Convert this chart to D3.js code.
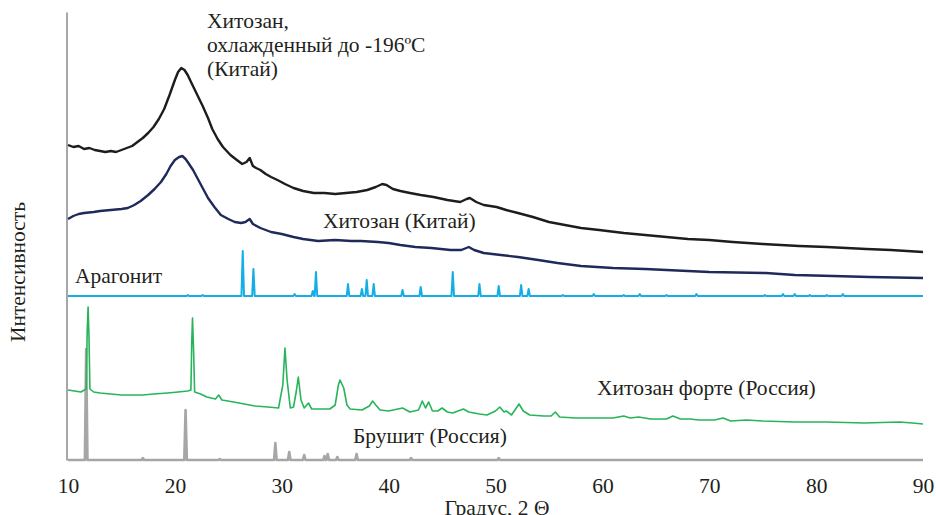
<!DOCTYPE html>
<html>
<head>
<meta charset="utf-8">
<script src="https://cdn.jsdelivr.net/npm/d3@7"></script>
<style>
  body { margin: 0; background: #fff; }
</style>
</head>
<body>
<script>
var FONT = '"Liberation Serif", "DejaVu Serif", "Times New Roman", serif';

// x ticks
var xTicks = [10, 20, 30, 40, 50, 60, 70, 80, 90];

// Хитозан, охлажденный до -196ºC (Китай) — black
var frozenX = [10, 10.5, 11, 11.5, 12, 12.5, 13, 13.5, 14, 14.5, 15, 15.5, 16, 16.5, 17, 17.5, 18, 18.5, 19, 19.5, 20, 20.3, 20.6, 20.9, 21.2, 21.6, 22.1, 22.6, 23.1, 23.5, 24, 24.5, 25.2, 25.8, 26.3, 26.7, 27, 27.3, 27.6, 28, 28.5, 29, 29.6, 30.3, 31.1, 32, 33, 34, 35, 36, 37, 38, 38.8, 39.4, 39.8, 40.4, 41.1, 42, 43, 44.2, 45.5, 46.7, 47.3, 47.6, 48.2, 48.9, 50.1, 51, 52.1, 53.5, 55, 56.5, 58, 59.7, 62, 64, 66, 68, 70, 72.2, 75, 78.4, 81, 84.7, 87, 90];
var frozenY = [315, 313, 314, 311, 312, 310, 309, 308, 309, 308, 310, 312, 314, 318, 322, 327, 333, 341, 351, 365, 380, 388, 392, 390, 385, 376, 365, 354, 342, 331, 321, 313, 305, 300, 296, 298, 302, 294, 292, 290, 286, 283, 280, 276, 272, 269, 267, 267, 266, 267, 268, 270, 273, 276, 275, 271, 269, 267, 265, 263, 260, 258, 261, 262, 258, 255, 253, 250, 247, 243, 238, 235, 232, 230, 227, 225, 223, 221, 220, 218, 216, 214, 213, 211, 210, 208];

// Хитозан (Китай) — navy
var chinaX = [10, 10.5, 11, 11.5, 12.4, 13, 14, 15, 15.6, 16.2, 16.8, 17.5, 18.1, 18.7, 19.2, 19.6, 20, 20.4, 20.7, 21, 21.2, 21.7, 22.1, 22.6, 23.1, 23.7, 24.3, 25, 25.6, 26.2, 26.6, 27, 27.3, 28, 29, 30, 31.1, 32, 33.4, 35, 36.5, 37.4, 39, 40, 41.1, 42.5, 44, 45.8, 46.8, 47.5, 48, 48.9, 50.5, 52.1, 54, 55.8, 58, 61, 64, 66, 70, 75.3, 78, 81.6, 85, 90];
var chinaY = [241, 244, 246, 247, 248, 249, 250, 251, 252, 255, 259, 265, 271, 278, 286, 294, 300, 303, 304, 301, 298, 290, 282, 272, 262, 253, 245, 241, 238, 237, 238, 241, 236, 232, 228, 226, 223, 221, 219, 220, 219, 219, 218, 217, 215, 213, 212, 210, 210, 213, 210, 207, 205, 203, 200, 197, 194, 192, 191, 190, 188, 187, 185, 184, 183, 182];

// Арагонит — stick pattern: baseline and [2θ, height]
var aragoniteBase = 164;
var aragonitePeaks = [[21.2, 1], [22.6, 1], [26.35, 45], [27.35, 27], [31.2, 2], [32.9, 5], [33.2, 24], [36.2, 12], [37.5, 7], [37.95, 16], [38.6, 12], [41.3, 6], [43.0, 9], [46.0, 24], [48.5, 12], [50.3, 10], [52.4, 11], [53.1, 7], [56.3, 1], [59.2, 2], [62.0, 1], [63.5, 2], [66.0, 1], [68.8, 2], [75.2, 1], [76.9, 2], [78.0, 2], [79.4, 1], [81.0, 1], [82.5, 2]];

// Хитозан форте (Россия) — green
var forteX = [10, 10.6, 11.2, 11.7, 11.8, 11.88, 11.96, 12.05, 12.4, 13, 14, 15, 16.2, 17, 18, 19.3, 20.3, 21.2, 21.5, 21.58, 21.65, 21.75, 21.85, 22.4, 23, 23.8, 24.1, 24.4, 25.5, 26.5, 27.5, 28.7, 29.7, 30.1, 30.3, 30.5, 30.8, 31.1, 31.35, 31.55, 31.8, 32.1, 32.5, 32.8, 33.5, 34.5, 35, 35.3, 35.45, 35.8, 36.1, 36.4, 37.5, 38.2, 38.5, 38.8, 39.2, 40, 41.3, 42, 42.8, 43.15, 43.45, 43.75, 44.1, 44.6, 45, 45.5, 46, 47, 47.5, 48.5, 49.2, 50, 50.4, 50.8, 51, 51.5, 52.2, 52.6, 53.2, 54.5, 55.2, 55.6, 56, 57.5, 59.7, 61, 62, 62.6, 63.4, 64.5, 66, 66.6, 67.3, 68.2, 69, 70.5, 71.3, 72, 73.5, 75, 78, 81, 84.5, 87.8, 89, 90];
var forteY = [70, 69, 68, 71, 130, 153, 125, 71, 68, 67, 66, 65, 65, 65, 66, 67, 68, 69, 70, 118, 142, 110, 68, 66, 63, 61, 65, 60, 58, 56, 54, 53, 52, 75, 112, 80, 52, 53, 68, 83, 60, 52, 57, 51, 51, 51, 55, 75, 80, 72, 55, 51, 50, 54, 59, 55, 50, 49, 52, 48, 50, 59, 52, 58, 49, 49, 52, 48, 47, 51, 48, 46, 45, 49, 53, 48, 49, 45, 56, 49, 45, 44, 44, 48, 43, 42, 42, 42, 44, 42, 43, 41, 41, 44, 41, 41, 40, 40, 42, 39, 40, 39, 38, 38, 37, 38, 37, 36];

// Брушит (Россия) — stick pattern
var brushiteBase = 0;
var brushitePeaks = [[11.7, 111], [17.0, 2], [21.0, 50], [24.2, 1], [29.4, 17], [30.7, 8], [32.1, 5], [34.0, 4], [34.3, 6], [35.2, 3], [37.0, 6], [42.1, 2], [50.3, 2]];

var svgWidth = 936;
var svgHeight = 515;

var svg = d3.select("body")
    .append("svg")
    .attr("width", svgWidth)
    .attr("height", svgHeight);

var xScale = d3.scaleLinear().domain([10, 90]).range([68, 923]);
var yScale = d3.scaleLinear().domain([0, 448]).range([460, 12]);

// zip x/y arrays into points
function zip(xs, ys) {
    return xs.map(function (x, i) { return [x, ys[i]]; });
}

// stick pattern -> narrow peaks on a flat baseline
function sticks(base, peaks, half) {
    var pts = [[10, base]];
    peaks.forEach(function (p) {
        pts.push([p[0] - half, base], [p[0], base + p[1]], [p[0] + half, base]);
    });
    pts.push([90, base]);
    return pts;
}

var line = d3.line()
    .x(d => xScale(d[0]))
    .y(d => yScale(d[1]));

// left axis (no ticks)
svg.append("g")
    .attr("transform", "translate(66.5,0)")
    .call(d3.axisLeft(yScale).ticks(0).tickSizeOuter(0))
    .select(".domain")
    .attr("stroke", "#8a8a8a")
    .attr("stroke-width", 1.5);

// bottom axis labels only
var xAxis = svg.append("g")
    .attr("transform", "translate(0,460)")
    .call(d3.axisBottom(xScale).tickValues(xTicks).tickSize(0).tickPadding(18));
xAxis.select(".domain").remove();
xAxis.attr("font-family", null).attr("font-size", null);
xAxis.selectAll("text")
    .style("font-family", FONT)
    .style("font-size", "21.5px")
    .attr("fill", "#231f20");

var series = [
    { pts: sticks(brushiteBase, brushitePeaks, 0.12), color: "#a6a6a6", width: 2.6 },
    { pts: zip(forteX, forteY), color: "#27b45a", width: 1.6 },
    { pts: sticks(aragoniteBase, aragonitePeaks, 0.12), color: "#14aee6", width: 2 },
    { pts: zip(chinaX, chinaY), color: "#1f2a5a", width: 2.4 },
    { pts: zip(frozenX, frozenY), color: "#1d1d1b", width: 2.4 }
];

svg.selectAll("path.series")
    .data(series)
    .enter()
    .append("path")
    .attr("class", "series")
    .attr("fill", "none")
    .attr("stroke", d => d.color)
    .attr("stroke-width", d => d.width)
    .attr("stroke-linejoin", "round")
    .attr("d", d => line(d.pts));

// curve labels
var labels = [
    { text: "Хитозан,", x: 207, y: 28 },
    { text: "охлажденный до -196ºС", x: 207, y: 52 },
    { text: "(Китай)", x: 207, y: 76 },
    { text: "Хитозан (Китай)", x: 323, y: 228 },
    { text: "Арагонит", x: 75, y: 283 },
    { text: "Хитозан форте (Россия)", x: 597, y: 395 },
    { text: "Брушит (Россия)", x: 353, y: 443 }
];

svg.selectAll("text.lbl")
    .data(labels)
    .enter()
    .append("text")
    .attr("class", "lbl")
    .attr("x", d => d.x)
    .attr("y", d => d.y)
    .attr("fill", "#231f20")
    .style("font-family", FONT)
    .style("font-size", "21.5px")
    .text(d => d.text);

// axis titles
svg.append("text")
    .attr("transform", "translate(25,272) rotate(-90)")
    .attr("text-anchor", "middle")
    .attr("fill", "#231f20")
    .style("font-family", FONT)
    .style("font-size", "21.5px")
    .text("Интенсивность");

svg.append("text")
    .attr("x", 497)
    .attr("y", 515)
    .attr("text-anchor", "middle")
    .attr("fill", "#231f20")
    .style("font-family", FONT)
    .style("font-size", "21.5px")
    .text("Градус, 2 Θ");
</script>
</body>
</html>
